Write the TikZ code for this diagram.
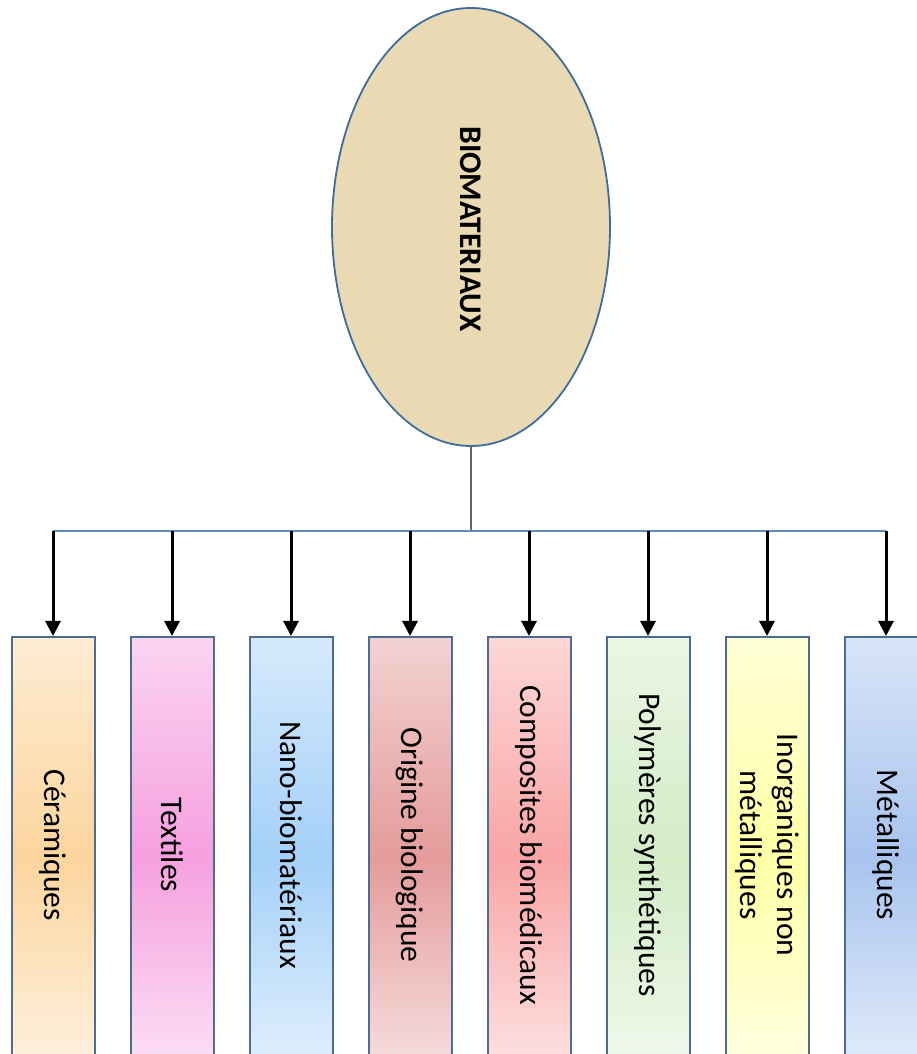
\documentclass[tikz,border=0pt]{standalone}
\usepackage{fontspec}
\setmainfont{Carlito}
\usepackage{tikz}
\usetikzlibrary{arrows.meta, positioning, shapes.geometric}

\definecolor{frameblue}{RGB}{76,108,145}
\definecolor{ellblue}{RGB}{62,108,158}
\definecolor{busblue}{RGB}{96,140,192}
\definecolor{stemgray}{RGB}{100,100,100}
\definecolor{beige}{RGB}{234,218,180}
\definecolor{ceramcol}{RGB}{252,213,158}
\definecolor{textilcol}{RGB}{245,160,223}
\definecolor{nanocol}{RGB}{164,208,248}
\definecolor{origcol}{RGB}{228,155,155}
\definecolor{compcol}{RGB}{249,165,165}
\definecolor{polycol}{RGB}{211,236,198}
\definecolor{inorgcol}{RGB}{255,255,166}
\definecolor{metalcol}{RGB}{168,196,238}

\begin{document}
\begin{tikzpicture}[x=1pt, y=1pt,
    matbox/.style={draw=frameblue, line width=2pt, anchor=north, inner sep=0pt,
        minimum width=83pt, minimum height=440pt},
    matlabel/.style={rotate=-90, align=center, inner sep=0pt,
        font=\fontsize{31.5}{37}\selectfont},
    godown/.style={-{Triangle[length=15pt,width=15pt]}, line width=3pt}]
    \useasboundingbox (0,0) rectangle (917,1054);
    \clip (0,0) rectangle (917,1054);
    % Root ellipse
    \node[ellipse, draw=ellblue, line width=1.8pt, fill=beige, inner sep=0pt,
        minimum width=278pt, minimum height=438pt] (root) at (471,827) {};
    \node[rotate=-90, inner sep=0pt, font=\bfseries\fontsize{31.5}{37}\selectfont]
        (rootlabel) at (471,825) {BIOMATERIAUX};
    % Stem down to the bus
    \coordinate (bus) at (471,523);
    \draw[stemgray, line width=1.5pt] (root.south) -- (bus);
    % Classes
    \foreach \i/\txt/\col in {1/Céramiques/ceramcol, 2/Textiles/textilcol,
        3/Nano-biomatériaux/nanocol, 4/Origine biologique/origcol,
        5/Composites biomédicaux/compcol, 6/Polymères synthétiques/polycol,
        7/{Inorganiques non\\métalliques}/inorgcol, 8/Métalliques/metalcol}{
        \node[matbox, top color=\col!45!white, bottom color=\col!30!white,
            middle color=\col] (b\i) at ({53+119*(\i-1)},418) {};
        \node[matlabel] (t\i) at ([yshift=-209pt]b\i.north) {\txt};
    }
    % Bus line
    \draw[busblue, line width=1.5pt] (b1.north |- bus) -- (b8.north |- bus);
    % Arrows
    \foreach \i in {1,...,8}
        \draw[godown] (b\i.north |- bus) -- (b\i.north);
\end{tikzpicture}
\end{document}
